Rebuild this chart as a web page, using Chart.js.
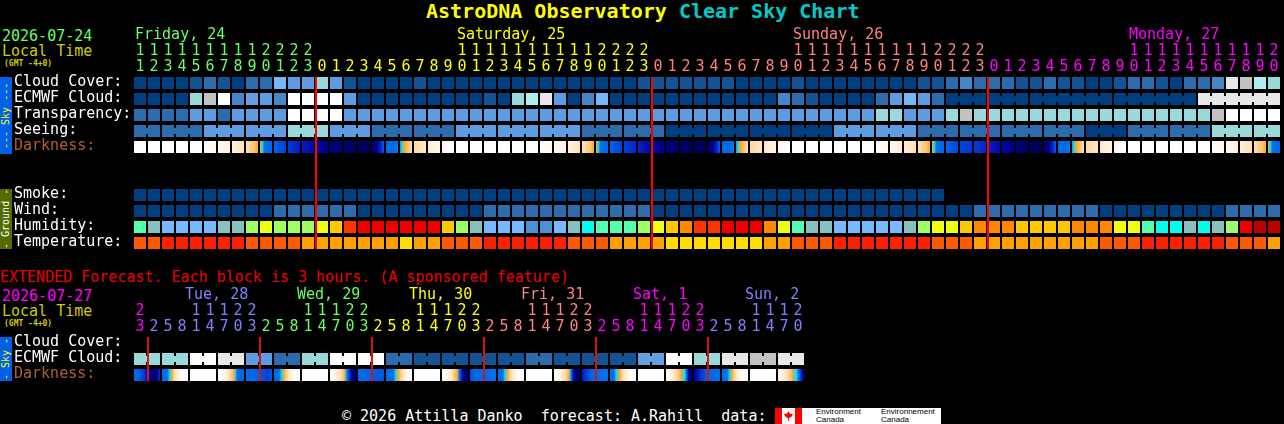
<!DOCTYPE html>
<html>
<head>
<meta charset="utf-8">
<title>AstroDNA Observatory Clear Sky Chart</title>
<script src="https://cdn.jsdelivr.net/npm/chart.js@4/dist/chart.umd.min.js"></script>
<style>
	html, body { margin: 0; padding: 0; background: #000; width: 1284px; height: 424px; overflow: hidden; }
	body { position: relative; font-family: "DejaVu Sans Mono", monospace; font-size: 15px; }
	canvas { position: absolute; left: 0; }
	.txt { position: absolute; white-space: pre; line-height: 16px; }
	.tab { position: absolute; left: 0; width: 12px; writing-mode: vertical-rl; transform: rotate(180deg); text-align: center; font-size: 10px; line-height: 12px; white-space: pre; overflow: hidden; }
</style>
</head>
<body>
<div class="txt" style="left:426px;top:0;font-size:20px;font-weight:bold;line-height:22px"><span style="color:#ffff00">AstroDNA Observatory</span> <span style="color:#00cccc">Clear Sky Chart</span></div>
<div class="txt" style="left:2px;top:28px;color:#66ff66">2026-07-24</div>
<div class="txt" style="left:2px;top:43px;color:#cccc00">Local Time</div>
<div class="txt" style="left:4px;top:56px;color:#cccc00;font-size:8px;font-weight:bold">(GMT -4+0)</div>
<div class="tab" style="top:77px;height:77px;background:#0060e8;color:#ffff00">--- Sky ---</div>
<div class="tab" style="top:189px;height:60px;background:#556b00;color:#ffffff">- Ground -</div>

<div class="txt" style="left:0;top:269px;color:#ee0000">EXTENDED Forecast. Each block is 3 hours. (A sponsored feature)</div>
<div class="txt" style="left:2px;top:288px;color:#ff00ff">2026-07-27</div>
<div class="txt" style="left:2px;top:303px;color:#cccc00">Local Time</div>
<div class="txt" style="left:4px;top:316px;color:#cccc00;font-size:8px;font-weight:bold">(GMT -4+0)</div>
<div class="tab" style="top:337px;height:44px;background:#0060e8;color:#ffff00">- Sky -</div>

<canvas id="mainChart" width="1284" height="263" style="top:0"></canvas>
<canvas id="extChart" width="1284" height="135" style="top:260px"></canvas>

<div class="txt" style="left:342px;top:408px;color:#ffffff">© 2026 Attilla Danko  forecast: A.Rahill  data:</div>
<div style="position:absolute;left:775px;top:408px;width:166px;height:16px;background:#fff;overflow:hidden;color:#000;font-family:'Liberation Sans',sans-serif;font-size:8px;line-height:8px">
	<div style="position:absolute;left:0;top:0;width:7px;height:16px;background:#f00"></div>
	<div style="position:absolute;left:20px;top:0;width:7px;height:16px;background:#f00"></div>
	<div style="position:absolute;left:9px;top:3px;width:9px;height:10px;background:#f00;clip-path:polygon(50% 0,65% 25%,100% 30%,80% 60%,55% 70%,55% 100%,45% 100%,45% 70%,20% 60%,0 30%,35% 25%)"></div>
	<div style="position:absolute;left:41px;top:0">Environment<br>Canada</div>
	<div style="position:absolute;left:106px;top:0">Environnement<br>Canada</div>
</div>

<script>
// header text and axis labels
const rowLabels = ["Cloud Cover:", "ECMWF Cloud:", "Transparency:", "Seeing:", "Darkness:", "", "", "Smoke:", "Wind:", "Humidity:", "Temperature:"];
const extRowLabels = ["Cloud Cover:", "ECMWF Cloud:", "Darkness:"];
const hours = [11, 12, 13, 14, 15, 16, 17, 18, 19, 20, 21, 22, 23, 0, 1, 2, 3, 4, 5, 6, 7, 8, 9, 10, 11, 12, 13, 14, 15, 16, 17, 18, 19, 20, 21, 22, 23, 0, 1, 2, 3, 4, 5, 6, 7, 8, 9, 10, 11, 12, 13, 14, 15, 16, 17, 18, 19, 20, 21, 22, 23, 0, 1, 2, 3, 4, 5, 6, 7, 8, 9, 10, 11, 12, 13, 14, 15, 16, 17, 18, 19, 20];
const extHours = [23, 2, 5, 8, 11, 14, 17, 20, 23, 2, 5, 8, 11, 14, 17, 20, 23, 2, 5, 8, 11, 14, 17, 20, 23, 2, 5, 8, 11, 14, 17, 20, 23, 2, 5, 8, 11, 14, 17, 20, 23, 2, 5, 8, 11, 14, 17, 20];
const dayNames = ["Friday, 24", "Saturday, 25", "Sunday, 26", "Monday, 27"];
const dayCols = [0, 23, 47, 71];
const dayColors = ["#66ff66", "#ffff00", "#ff8080", "#ff00ff"];
const dayStarts = [0, 13, 37, 61];
const extDayNames = ["Tue, 28", "Wed, 29", "Thu, 30", "Fri, 31", "Sat, 1", "Sun, 2"];
const extDayCols = [4, 12, 20, 28, 36, 44];
const extDayColors = ["#8080ff", "#66ff66", "#ffff00", "#ff8080", "#ff00ff", "#8080ff"];
const extColorStarts = [0, 1, 9, 17, 25, 33, 41];
const extTickColors = ["#ff00ff", "#8080ff", "#66ff66", "#ffff00", "#ff8080", "#ff00ff", "#8080ff"];

// forecast values, one per hour column
const cloudCover = [0, 0, 0, 0, 10, 20, 10, 0, 20, 20, 50, 40, 40, 60, 40, 10, 0, 0, 0, 0, 10, 0, 0, 0, 0, 0, 0, 0, 0, 0, 0, 0, 0, 0, 0, 0, 10, 10, 10, 10, 10, 10, 10, 0, 0, 0, 0, 10, 0, 0, 0, 0, 0, 0, 0, 0, 10, 10, 20, 30, 20, 20, 20, 10, 10, 20, 10, 10, 0, 0, 10, 20, 20, 10, 0, 20, 20, 30, 80, 90, 70, 60];
const ecmwfCloud = [0, 0, 0, 0, 60, 90, 100, 30, 45, 40, 30, 100, 100, 100, 100, 40, 0, 0, 0, 0, 0, 0, 0, 0, 0, 10, 0, 60, 70, 80, 40, 0, 30, 50, 0, 0, 0, 0, 0, 0, 0, 0, 0, 0, 0, 0, 30, 20, 10, 0, 0, 0, 0, 20, 40, 50, 40, 20, 0, 0, 0, 0, 0, 0, 0, 0, 0, 0, 0, 0, 0, 0, 0, 0, 0, 0, 80, 80, 80, 80, 80, 80];
const transparency = [1, 1, 1, 1, 2, 2, 1, 2, 2, 2, 2, 5, 5, 5, 5, 2, 2, 2, 2, 2, 2, 2, 2, 2, 2, 2, 2, 2, 2, 2, 2, 2, 2, 2, 2, 2, 2, 2, 2, 2, 2, 2, 2, 2, 2, 2, 2, 2, 2, 2, 2, 2, 2, 3, 3, 2, 2, 2, 3, 4, 3, 3, 3, 3, 3, 3, 3, 3, 3, 3, 3, 3, 3, 3, 3, 3, 3, 4, 5, 5, 5, 5];
const seeing = [1, 1, 1, 1, 1, 2, 2, 2, 2, 2, 2, 3, 3, 3, 2, 2, 2, 1, 1, 1, 1, 1, 1, 2, 2, 2, 2, 2, 2, 2, 2, 2, 1, 1, 1, 1, 1, 1, 0, 0, 0, 0, 0, 0, 0, 0, 0, 0, 0, 0, 2, 2, 2, 2, 2, 2, 1, 1, 1, 1, 1, 1, 1, 1, 1, 1, 1, 1, 0, 0, 0, 1, 1, 1, 1, 1, 1, 3, 3, 3, 3, 3];
const smoke = [0, 0, 0, 0, 0, 0, 0, 0, 0, 0, 0, 0, 0, 0, 0, 0, 0, 0, 0, 0, 0, 0, 0, 0, 0, 0, 0, 0, 0, 0, 0, 0, 0, 0, 0, 0, 0, 0, 0, 0, 0, 0, 0, 0, 0, 0, 0, 0, 0, 0, 0, 0, 0, 0, 0, 0, 0, 0];
const wind = [0, 0, 0, 0, 0, 0, 0, 0, 0, 0, 1, 1, 1, 1, 1, 1, 0, 0, 0, 0, 0, 0, 0, 0, 0, 1, 1, 1, 1, 1, 1, 1, 1, 1, 1, 1, 1, 0, 0, 0, 0, 0, 0, 0, 0, 0, 0, 0, 0, 0, 0, 0, 0, 0, 0, 0, 0, 0, 0, 0, 1, 1, 1, 1, 1, 1, 1, 1, 1, 0, 0, 0, 0, 0, 0, 0, 0, 0, 1, 1, 1, 1];
const humidity = [50, 40, 35, 35, 35, 35, 40, 40, 55, 60, 55, 55, 55, 60, 65, 75, 80, 80, 80, 80, 80, 80, 65, 55, 40, 35, 35, 35, 30, 30, 35, 40, 45, 50, 50, 50, 55, 60, 65, 70, 75, 75, 80, 80, 80, 70, 60, 50, 40, 40, 35, 35, 35, 35, 35, 40, 55, 60, 60, 65, 70, 70, 70, 65, 65, 65, 65, 70, 70, 70, 60, 60, 50, 45, 45, 40, 45, 40, 55, 80, 85, 85];
const temperature = [20, 20, 23, 23, 23, 23, 23, 23, 20, 20, 20, 20, 17, 17, 17, 17, 17, 17, 17, 14, 17, 17, 20, 20, 20, 23, 23, 23, 23, 23, 23, 20, 20, 20, 17, 17, 17, 17, 14, 14, 14, 14, 14, 14, 14, 17, 17, 20, 20, 20, 23, 23, 23, 23, 23, 23, 23, 20, 20, 20, 17, 17, 17, 17, 17, 17, 17, 17, 17, 20, 20, 20, 23, 23, 23, 23, 23, 23, 20, 20, 20, 17];
// limiting magnitude at each column edge, so one more value than columns
const darkness = [-5, -5, -5, -5, -5, -5, -3.8, -3.2, -2.2, -0.5, 2, 2.8, 3.4, 4, 4.6, 5.2, 5.7, 5.9, 2.2, 0.3, -1.8, -2.8, -3.6, -5, -5, -5, -5, -5, -5, -5, -3.8, -3.2, -2.4, -0.5, 2, 2.8, 3.2, 4, 4.7, 5.3, 5.9, 5.9, 2.2, 0.3, -1.8, -2.6, -3.4, -5, -5, -5, -5, -5, -5, -5, -3.7, -3, -2.2, -0.5, 2, 2.7, 2.9, 3.2, 4, 4.7, 5.7, 5.9, 2.2, 0.3, -1.8, -2.6, -3.4, -5, -5, -5, -5, -5, -5, -5, -3.8, -3.1, -2.2, -0.5, 2];

// extended forecast, one value per 6 hour block
const extEcmwf = [60, 60, 100, 80, 40, 20, 60, 100, 100, 20, 10, 10, 10, 10, 20, 10, 10, 10, 45, 100, 60, 80, 90, 80];
const extDarkness = [
	[1.5, 2, 2.4, 2.8, 3.6, 4.6, 5.2, 5, 2.8],
	[1.2, 1, 0.2, -0.4, -2.2, -3.2, -4, -5, -5],
	[-5, -5, -5, -5, -5, -5, -5, -5, -5],
	[-5, -4.5, -3.5, -2.6, -1.5, -0.4, 0.6, 2, 2],
	[1, 1.4, 1.8, 2, 2.2, 2.4, 2.6, 2.8, 2.2],
	[1.4, 0.8, 0.2, -0.4, -1.6, -3, -3.8, -4.6, -5],
	[-5, -5, -5, -5, -5, -5, -5, -5, -5],
	[-5, -4, -3, -2.2, -1.2, 0.2, 3, 5, 5.2],
	[1.2, 1.6, 2, 2, 2, 2.2, 2.2, 2.4, 2.4],
	[1.2, 1, 0.6, 0, -0.6, -2, -3.4, -4.6, -5],
	[-5, -5, -5, -5, -5, -5, -5, -5, -5],
	[-5, -4, -3.2, -2.4, -1, -0.2, 3.4, 5, 5.6],
	[2.6, 2.2, 1.8, 1.4, 1, 0.8, 0.7, 0.6, 0.6],
	[1, 0.8, 0.1, -0.5, -2, -3.2, -4, -5, -5],
	[-5, -5, -5, -5, -5, -5, -5, -5, -5],
	[-5, -4, -3.2, -2.4, -1.2, 0, 4, 5.2, 5.8],
	[3.4, 3, 2.6, 2, 1.4, 1, 0.8, 0.7, 0.7],
	[0.8, 0.5, 0, -0.5, -2, -3, -4, -4.6, -5],
	[-5, -5, -5, -5, -5, -5, -5, -5, -5],
	[-4.6, -4, -3, -2.2, -1, -0.2, 0, 4.5, 5.6],
	[4.6, 3.6, 3, 2.6, 2, 1.6, 1.2, 1, 0.8],
	[1, 0.8, 0.2, -0.4, -1.8, -3.2, -3.8, -4.6, -5],
	[-5, -5, -5, -5, -5, -5, -5, -5, -5],
	[-3.8, -3.4, -2.8, -2, -1, -0.1, 0.1, 3, 5],
];

// columns where a new forecast run block starts, cells in one block get joined
const seeingStarts = [0, 2, 5, 8, 11, 14, 17, 20, 23, 26, 29, 32, 35, 38, 41, 44, 47, 50, 53, 56, 59, 62, 65, 68, 71, 74, 77, 80, 82];
const ecmwfStarts = [58, 61, 64, 70, 76, 82];
const midnights = [13, 37, 61];
const extMidnights = [1, 9, 17, 25, 33, 41];

// colour keys
const cloudColors = { 0: "#003f7f", 10: "#135393", 20: "#2c6cac", 30: "#4686c6", 40: "#5d9ce0", 45: "#659fe0", 50: "#77b7f7", 60: "#99d9d9", 70: "#aeeeee", 80: "#e8e8e8", 90: "#c2c2c2", 100: "#ffffff" };
const skyColors = ["#003f7f", "#2c6cac", "#5d9ce0", "#99d9d9", "#c2c2c2", "#ffffff"];
const humidityColors = { 30: "#4f8fd8", 35: "#78b8ff", 40: "#88c0c0", 45: "#00ffee", 50: "#55ffb0", 55: "#9cff66", 60: "#eeff11", 65: "#ffc800", 70: "#ff8800", 75: "#ff3300", 80: "#ee0000", 85: "#bb0000" };
const temperatureColors = { 14: "#ffdd00", 17: "#ffa000", 20: "#ff5a00", 23: "#ff2000" };
const darkStops = [
	[-5, [255, 255, 255]], [-3.8, [255, 248, 240]], [-3, [255, 238, 216]], [-2, [255, 220, 168]], [-1, [255, 192, 112]],
	[-0.4, [255, 160, 32]], [0, [0, 232, 255]], [0.4, [0, 112, 238]], [2, [0, 104, 232]], [2.8, [0, 64, 216]],
	[3.4, [10, 24, 192]], [4, [0, 8, 168]], [4.6, [0, 0, 136]], [5.2, [0, 0, 112]], [6, [0, 0, 85]],
];

function darkColor(v) {
	let i = 0;
	while (i < darkStops.length - 2 && v > darkStops[i + 1][0]) i++;
	const [v0, c0] = darkStops[i];
	const [v1, c1] = darkStops[i + 1];
	const t = Math.min(1, Math.max(0, (v - v0) / (v1 - v0)));
	return "rgb(" + c0.map((c, k) => Math.round(c + (c1[k] - c) * t)).join(",") + ")";
}

// one colour per pixel column of the block
function darkGradient(chart, centre, width, samples) {
	const px = chart.scales.x.getPixelForValue(centre);
	if (!isFinite(px)) return "#000"; // scale has no size yet on the first pass
	const grad = chart.ctx.createLinearGradient(px - width / 2, 0, px + width / 2, 0);
	for (let k = 0; k <= width; k++) {
		const pos = (k / width) * (samples.length - 1);
		const j = Math.min(samples.length - 2, Math.floor(pos));
		grad.addColorStop(k / width, darkColor(samples[j] + (samples[j + 1] - samples[j]) * (pos - j)));
	}
	return grad;
}

const CELL = 0.375; // half block height in rows
const JOIN = 0.1875;

function rowBars(row, values, colors) {
	return {
		data: values.map((v, i) => ({ x: i, y: [row - CELL, row + CELL] })),
		backgroundColor: values.map((v) => colors[v]),
		barThickness: 12,
	};
}

// small bars that close the gap between cells of one block
function joinBars(row, values, colors, starts) {
	const data = [];
	const backgroundColor = [];
	starts.slice(0, -1).forEach((start, g) => {
		for (let i = start; i < starts[g + 1] - 1; i++) {
			data.push({ x: i + 0.5, y: [row - JOIN, row + JOIN] });
			backgroundColor.push(colors[values[i]]);
		}
	});
	return { data, backgroundColor, barThickness: 2 };
}

function redLines(cols, top, bottom, color) {
	return {
		data: cols.map((c) => ({ x: c - 0.43, y: [top, bottom] })),
		backgroundColor: color,
		barThickness: 2,
	};
}

function pickColor(starts, colors, i) {
	let k = 0;
	while (k < starts.length - 1 && i >= starts[k + 1]) k++;
	return colors[k];
}

// draws the day names above the hour digits
function dayPlugin(names, cols, colors, shift) {
	return {
		id: "dayNames",
		afterDraw(chart) {
			const ctx = chart.ctx;
			ctx.save();
			ctx.font = '15px "DejaVu Sans Mono"';
			ctx.textBaseline = "middle";
			names.forEach((name, i) => {
				ctx.fillStyle = colors[i];
				ctx.fillText(name, chart.scales.x.getPixelForValue(cols[i]) + shift, chart.scales.x.bottom - 40);
			});
			ctx.restore();
		},
	};
}

function makeChart(id, datasets, labels, hourList, starts, tickColors, plugin) {
	return new Chart(document.getElementById(id), {
		type: "bar",
		data: { datasets },
		plugins: [plugin],
		options: {
			responsive: false,
			animation: false,
			devicePixelRatio: 1,
			layout: { autoPadding: false, padding: { left: 14, right: 3, top: 0, bottom: 0 } },
			plugins: { legend: { display: false }, tooltip: { enabled: false } },
			datasets: { bar: { grouped: false, inflateAmount: 0, borderWidth: 0 } },
			scales: {
				x: {
					type: "linear",
					position: "top",
					offset: false,
					min: -0.5,
					max: hours.length - 0.5, // both charts share the same column width
					grid: { display: false, drawTicks: false },
					border: { display: false },
					afterBuildTicks: (s) => { s.ticks = hourList.map((h, i) => ({ value: i })); },
					afterFit: (s) => { s.height = 75; },
					ticks: {
						autoSkip: false,
						maxRotation: 0,
						padding: 0,
						font: { family: "DejaVu Sans Mono", size: 15, lineHeight: 16 / 15 },
						color: (c) => pickColor(starts, tickColors, c.index),
						callback: (v, i) => (hourList[i] < 10 ? ["", String(hourList[i])] : [String(Math.floor(hourList[i] / 10)), String(hourList[i] % 10)]),
					},
				},
				y: {
					type: "linear",
					reverse: true,
					offset: false,
					min: -0.5,
					max: labels.length - 0.5,
					grid: { display: false, drawTicks: false },
					border: { display: false },
					afterBuildTicks: (s) => { s.ticks = labels.map((l, i) => ({ value: i })); },
					afterFit: (s) => { s.width = 119; },
					ticks: {
						autoSkip: false,
						crossAlign: "far",
						labelOffset: -1,
						font: { family: "DejaVu Sans Mono", size: 15 },
						color: (c) => (labels[c.index] === "Darkness:" ? "#b06030" : "#ffffff"),
						callback: (v, i) => labels[i],
					},
				},
			},
		},
	});
}

// main chart, the first dataset is painted on top so the red lines go first
const darkCols = darkness.slice(0, -1).map((v, i) => ({ x: i, y: [4 - CELL, 4 + CELL] }));
makeChart("mainChart", [
	redLines(midnights, -CELL, 10 + CELL, "#ff0000"),
	rowBars(0, cloudCover, cloudColors),
	rowBars(1, ecmwfCloud, cloudColors),
	joinBars(1, ecmwfCloud, cloudColors, ecmwfStarts),
	rowBars(2, transparency, skyColors),
	rowBars(3, seeing, skyColors),
	joinBars(3, seeing, skyColors, seeingStarts),
	{
		data: darkCols,
		barThickness: 12,
		backgroundColor: (c) => (c.type === "data" ? darkGradient(c.chart, c.dataIndex, 12, [darkness[c.dataIndex], darkness[c.dataIndex + 1]]) : "#000"),
	},
	rowBars(7, smoke, skyColors),
	rowBars(8, wind, skyColors),
	rowBars(9, humidity, humidityColors),
	rowBars(10, temperature, temperatureColors),
], rowLabels, hours, dayStarts, dayColors, dayPlugin(dayNames, dayCols, dayColors, -5));

// extended chart, every column here is 3 hours
const extCols = extEcmwf.flatMap((v) => [v, v]);
const extStarts = extEcmwf.map((v, k) => k * 2).concat(extEcmwf.length * 2);
makeChart("extChart", [
	redLines(extMidnights, -CELL, 2 + CELL, "#e01010"),
	rowBars(1, extCols, cloudColors),
	joinBars(1, extCols, cloudColors, extStarts),
	{
		data: extDarkness.map((s, k) => ({ x: k * 2 + 0.5, y: [2 - CELL, 2 + CELL] })),
		barThickness: 26,
		backgroundColor: (c) => (c.type === "data" ? darkGradient(c.chart, c.dataIndex * 2 + 0.5, 26, extDarkness[c.dataIndex]) : "#000"),
	},
], extRowLabels, extHours, extColorStarts, extTickColors, dayPlugin(extDayNames, extDayCols, extDayColors, -11));
</script>
</body>
</html>
